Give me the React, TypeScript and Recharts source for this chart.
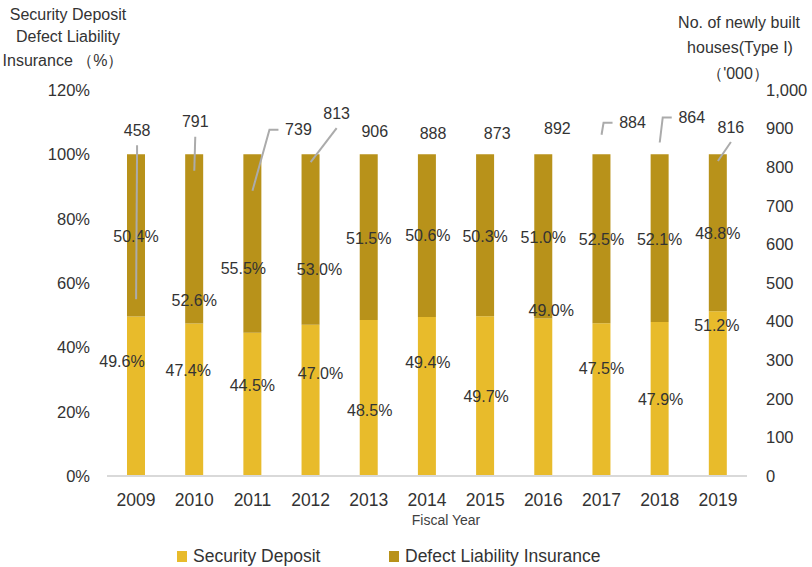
import React from 'react';
import { ComposedChart, Bar, Line, XAxis, YAxis, Legend, LabelList } from 'recharts';

const years = ['2009', '2010', '2011', '2012', '2013', '2014', '2015', '2016', '2017', '2018', '2019'];
const securityDeposit = [49.6, 47.4, 44.5, 47.0, 48.5, 49.4, 49.7, 49.0, 47.5, 47.9, 51.2];
const defectInsurance = [50.4, 52.6, 55.5, 53.0, 51.5, 50.6, 50.3, 51.0, 52.5, 52.1, 48.8];
const newHouses = [458, 791, 739, 813, 906, 888, 873, 892, 884, 864, 816];
const pctTicks = [0, 20, 40, 60, 80, 100, 120];
const houseTicks = [0, 100, 200, 300, 400, 500, 600, 700, 800, 900, 1000];

const seriesNames = ['Security Deposit', 'Defect Liability Insurance'];

// label layout (pixel offsets from the mark they belong to)
const sdLabelOffset = [[-14, -35], [-6, -29], [0, -19], [10, -27], [1, 13], [1, -34], [1, 0], [8, -87], [0, -31], [1, 1], [-1, -68]];
const dliLabelOffset = [[0, 1], [0, 62], [-9, 25], [9, 30], [0, 1], [1, 0], [0, 1], [0, 1], [0, 1], [0, 1], [0, 1]];
const houseLabelLayout = [
  { dx: 1, dy: -169, leader: 'line', ex: 0 },
  { dx: 1, dy: -49, leader: 'line', ex: 0 },
  { dx: 46, dy: -61, leader: 'elbow', ex: 17 },
  { dx: 26, dy: -49, leader: 'line', ex: 0 },
  { dx: 6, dy: 5, leader: 'none', ex: 0 },
  { dx: 6, dy: 0, leader: 'none', ex: 0 },
  { dx: 12, dy: -6, leader: 'none', ex: 0 },
  { dx: 14, dy: -3, leader: 'none', ex: 0 },
  { dx: 31, dy: -12, leader: 'elbow', ex: 2 },
  { dx: 32, dy: -25, leader: 'elbow', ex: 3 },
  { dx: 13, dy: -34, leader: 'line', ex: 0 },
];

const COLOR_SD = '#E8BB2B';
const COLOR_DLI = '#B8921A';
const TEXT = '#333333';
const FONT = '"Liberation Sans", Arial, sans-serif';

const data = years.map((y, i) => ({
  year: y,
  sd: securityDeposit[i],
  dli: defectInsurance[i],
  houses: newHouses[i],
}));

const getBox = (props: any) => {
  const vb = props.viewBox || {};
  const x = props.x ?? vb.x ?? 0;
  const y = props.y ?? vb.y ?? 0;
  const width = props.width ?? vb.width ?? 0;
  const height = props.height ?? vb.height ?? 0;
  return { x, y, width, height };
};

const makeBarLabel = (offsets: number[][]) => (props: any) => {
  const { x, y, width, height } = getBox(props);
  const i = props.index ?? 0;
  const [dx, dy] = offsets[i] || [0, 0];
  return (
    <text
      x={x + width / 2 + dx}
      y={y + height / 2 + dy}
      textAnchor="middle"
      dominantBaseline="central"
      fill={TEXT}
      fontSize={16}
      fontFamily={FONT}
    >
      {Number(props.value).toFixed(1)}%
    </text>
  );
};

const HouseLabel = (props: any) => {
  const { x, y } = getBox(props);
  const i = props.index ?? 0;
  const l = houseLabelLayout[i];
  const lx = x + l.dx;
  const ly = y + l.dy;
  let path = '';
  if (l.leader === 'line') {
    path = `M${lx},${ly + 15} L${x},${y}`;
  } else if (l.leader === 'elbow') {
    path = `M${lx - 20},${ly} L${x + l.ex},${ly} L${x},${y}`;
  }
  return (
    <g>
      {path && <path d={path} stroke="#ABABAB" strokeWidth={2} fill="none" />}
      <text
        x={lx}
        y={ly}
        textAnchor="middle"
        dominantBaseline="central"
        fill={TEXT}
        fontSize={16}
        fontFamily={FONT}
      >
        {props.value}
      </text>
    </g>
  );
};

const LegendContent = () => {
  const colors = [COLOR_SD, COLOR_DLI];
  const lefts = [177, 389];
  return (
    <div style={{ position: 'relative', width: 812, height: 35, fontFamily: FONT }}>
      {seriesNames.map((n, i) => (
        <div key={n}>
          <div
            style={{
              position: 'absolute',
              left: lefts[i],
              top: 19,
              width: 10,
              height: 11,
              background: colors[i],
            }}
          />
          <div
            style={{
              position: 'absolute',
              left: lefts[i] + 16,
              top: 14,
              fontSize: 17.5,
              lineHeight: '20px',
              color: TEXT,
              whiteSpace: 'nowrap',
            }}
          >
            {n}
          </div>
        </div>
      ))}
    </div>
  );
};

const titleStyle: React.CSSProperties = {
  position: 'absolute',
  fontFamily: FONT,
  fontSize: 16,
  color: TEXT,
  whiteSpace: 'nowrap',
  transform: 'translate(-50%, -50%)',
  lineHeight: '18px',
};

export default function App() {
  return (
    <div style={{ position: 'absolute', left: 0, top: 0, width: 812, height: 567, background: '#fff' }}>
      <ComposedChart
        width={812}
        height={567}
        data={data}
        margin={{ top: 90, right: 0, bottom: 0, left: 0 }}
        barSize={18}
      >
        <XAxis
          dataKey="year"
          height={56}
          tickLine={false}
          axisLine={{ stroke: '#D9D9D9', strokeWidth: 2 }}
          tick={{ fill: TEXT, fontSize: 17.5, fontFamily: FONT }}
          tickMargin={12}
          interval={0}
          label={{
            value: 'Fiscal Year',
            position: 'insideBottom',
            offset: 7,
            dx: 19,
            fill: '#404040',
            fontSize: 14,
            fontFamily: FONT,
          }}
        />
        <YAxis
          yAxisId="left"
          orientation="left"
          width={107}
          domain={[0, 120]}
          ticks={pctTicks}
          tickFormatter={(v: number) => `${v}%`}
          axisLine={false}
          tickLine={false}
          tickMargin={11}
          tick={{ fill: TEXT, fontSize: 16.5, fontFamily: FONT }}
          interval={0}
        />
        <YAxis
          yAxisId="right"
          orientation="right"
          width={65}
          domain={[0, 1000]}
          ticks={houseTicks}
          tickFormatter={(v: number) => v.toLocaleString('en-US')}
          axisLine={false}
          tickLine={false}
          tickMargin={13}
          tick={{ fill: TEXT, fontSize: 16.5, fontFamily: FONT }}
          interval={0}
        />
        <Legend
          verticalAlign="bottom"
          align="left"
          content={<LegendContent />}
          wrapperStyle={{ left: 0, bottom: 0, width: 812, height: 35 }}
        />
        <Bar
          yAxisId="left"
          dataKey="sd"
          name={seriesNames[0]}
          stackId="a"
          fill={COLOR_SD}
          isAnimationActive={false}
        >
          <LabelList dataKey="sd" content={makeBarLabel(sdLabelOffset)} />
        </Bar>
        <Bar
          yAxisId="left"
          dataKey="dli"
          name={seriesNames[1]}
          stackId="a"
          fill={COLOR_DLI}
          isAnimationActive={false}
        >
          <LabelList dataKey="dli" content={makeBarLabel(dliLabelOffset)} />
        </Bar>
        <Line
          yAxisId="right"
          dataKey="houses"
          stroke="none"
          dot={false}
          activeDot={false}
          legendType="none"
          isAnimationActive={false}
        >
          <LabelList dataKey="houses" content={HouseLabel} />
        </Line>
      </ComposedChart>
      <div style={{ ...titleStyle, left: 68, top: 15 }}>Security Deposit</div>
      <div style={{ ...titleStyle, left: 68, top: 37 }}>Defect Liability</div>
      <div style={{ ...titleStyle, left: 63, top: 61 }}>Insurance （%）</div>
      <div style={{ ...titleStyle, left: 739, top: 23 }}>No. of newly built</div>
      <div style={{ ...titleStyle, left: 740, top: 48 }}>houses(Type I)</div>
      <div style={{ ...titleStyle, left: 738, top: 74 }}>（'000）</div>
    </div>
  );
}
